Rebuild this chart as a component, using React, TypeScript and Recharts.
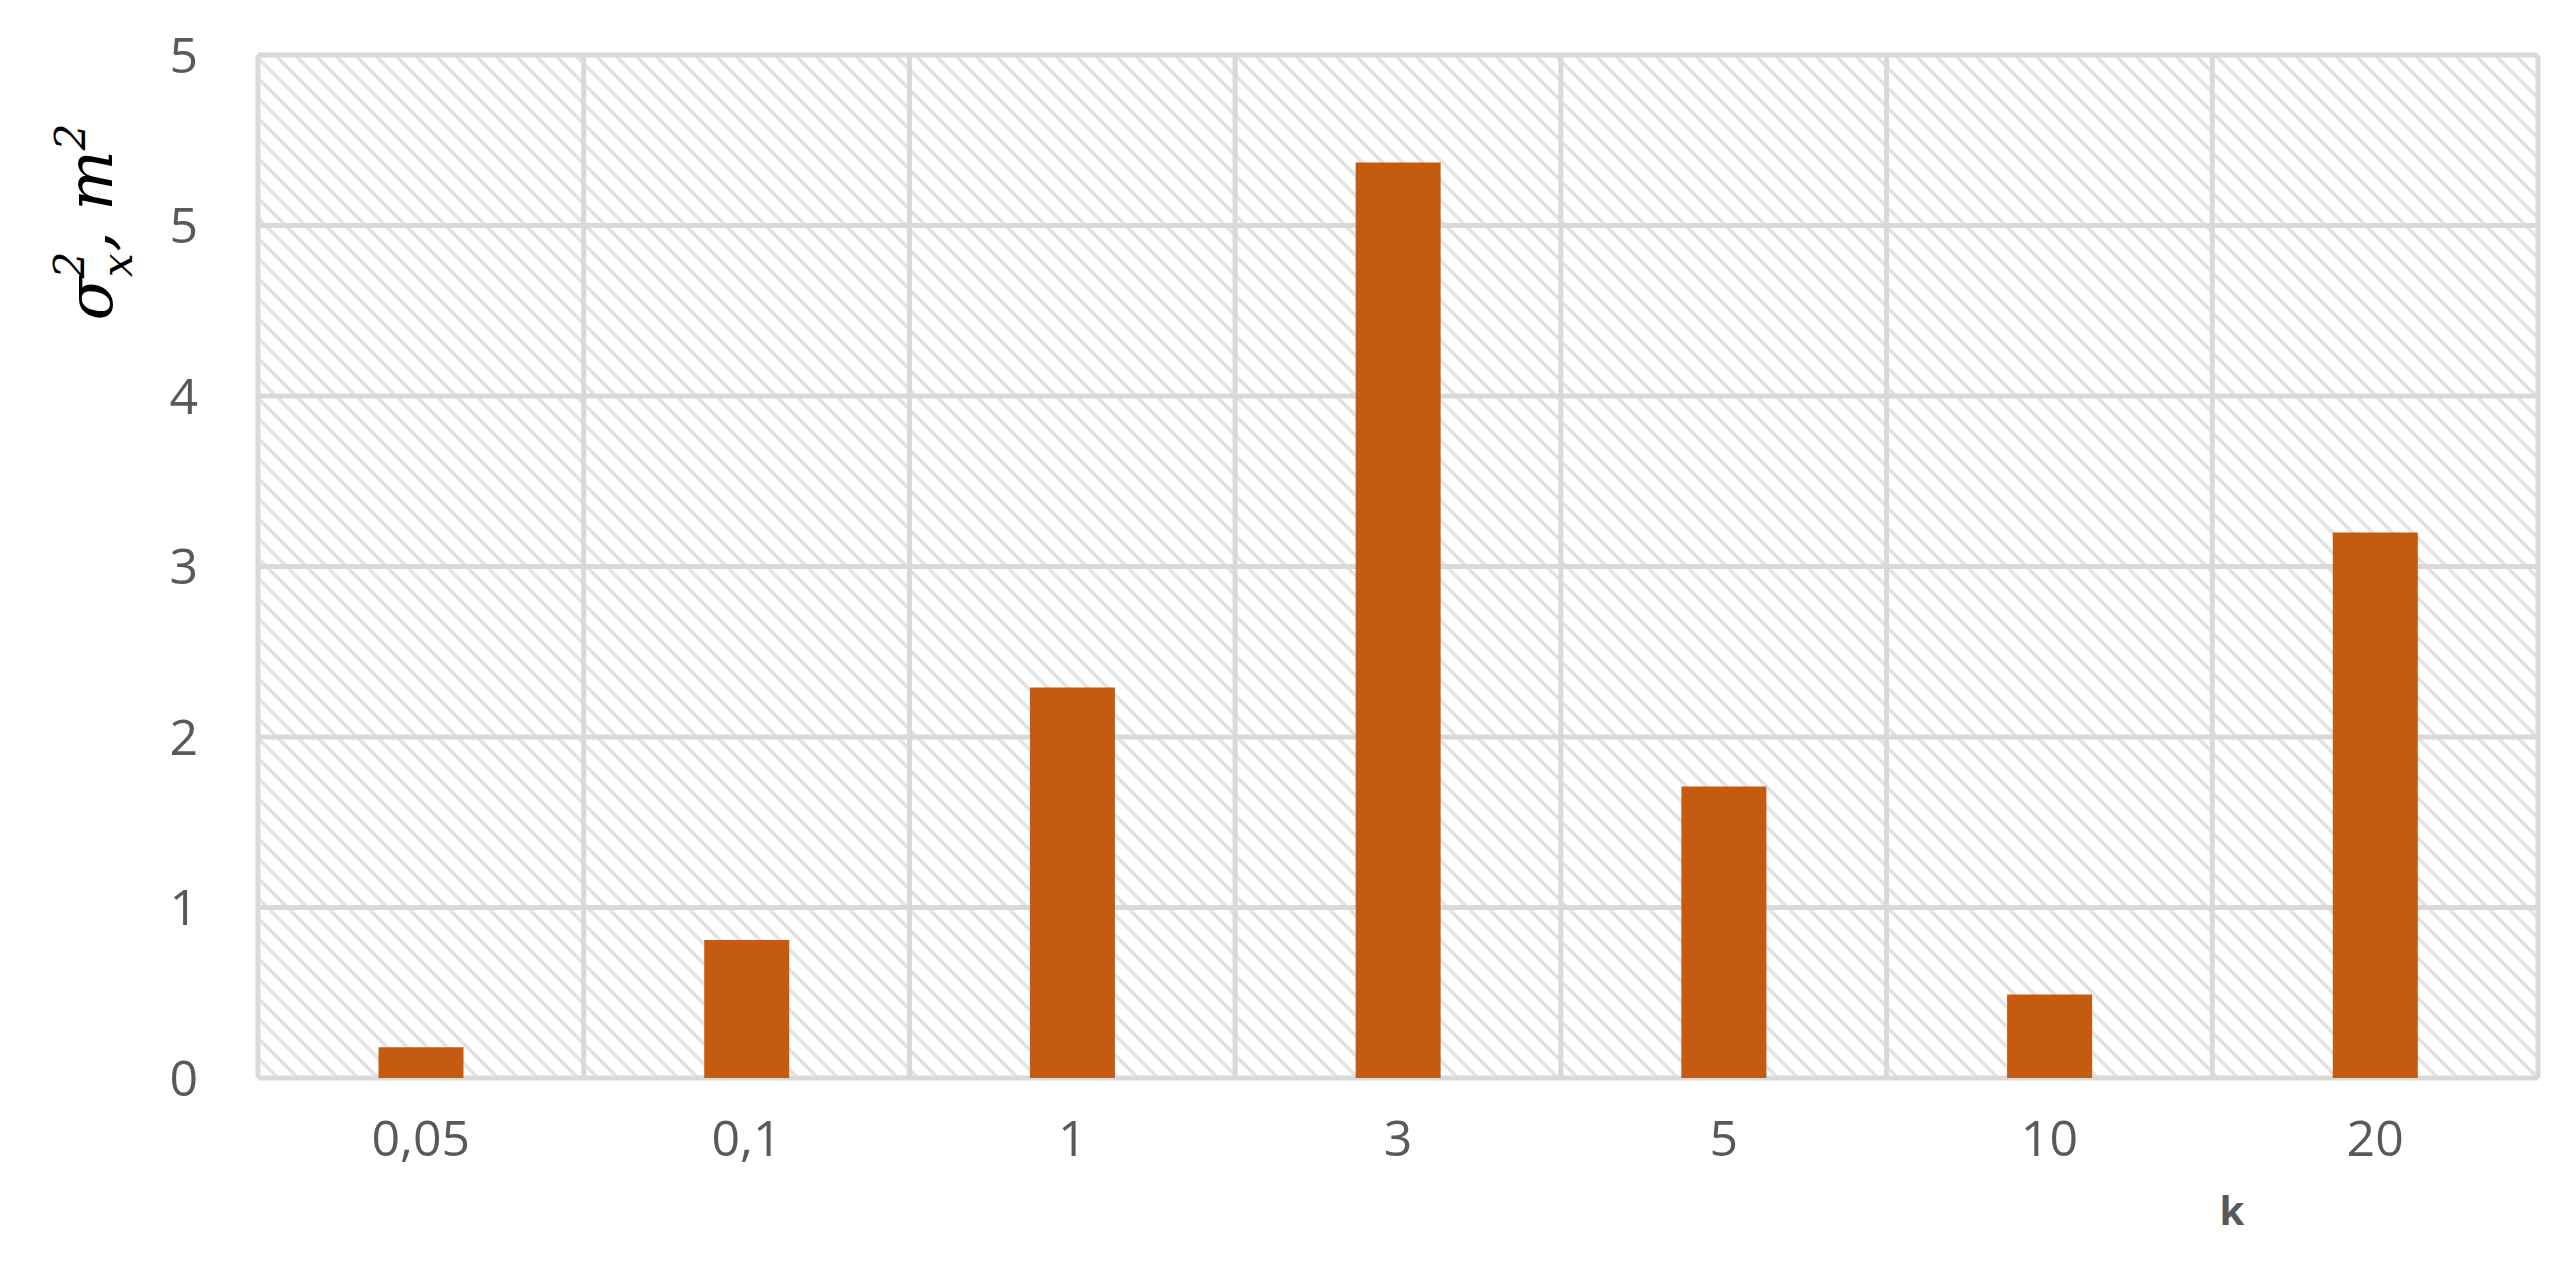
import { BarChart, Bar, XAxis, YAxis, CartesianGrid } from "recharts";

const categories = ["0,05", "0,1", "1", "3", "5", "10", "20"];
const variance = [0.18, 0.81, 2.29, 5.37, 1.71, 0.49, 3.2];
const yTicks = [0, 1, 2, 3, 4, 5, 6];
const yTickLabels = ["0", "1", "2", "3", "4", "5", "5"];

const data = categories.map((k, i) => ({ k, value: variance[i] }));

const W = 2575;
const H = 1270;
const GRID = "#D9D9D9";
const TEXT = "#595959";

function YLabel() {
  return (
    <text
      transform="translate(112, 222) rotate(-90)"
      textAnchor="middle"
      fontFamily="'DejaVu Serif', serif"
      fontStyle="italic"
      fontSize={64}
      fill="#000"
    >
      <tspan>σ</tspan>
      <tspan fontSize={42} dy={20}>x</tspan>
      <tspan fontSize={42} dx={-25} dy={-48}>2</tspan>
      <tspan dy={28}>, m</tspan>
      <tspan fontSize={42} dy={-27}>2</tspan>
    </text>
  );
}

export default function App() {
  return (
    <div style={{ position: "absolute", left: 0, top: 0, width: W, height: H, background: "#fff" }}>
      <BarChart
        width={W}
        height={H}
        data={data}
        margin={{ top: 55, right: 37, bottom: 92, left: 158 }}
        barCategoryGap="37%"
      >
        <defs>
          <pattern id="hatch" width={20} height={20} patternUnits="userSpaceOnUse">
            <rect width={20} height={20} fill="#fff" />
            <path d="M-5,-5 L25,25 M-5,15 L5,25 M15,-5 L25,5" stroke="#E3E3E3" strokeWidth={3.5} />
          </pattern>
        </defs>
        <CartesianGrid
          stroke={GRID}
          strokeWidth={5}
          fill="url(#hatch)"
          fillOpacity={1}
          verticalCoordinatesGenerator={({ offset }: any) =>
            categories.map((_, i) => offset.left + (i * offset.width) / categories.length).concat(offset.left + offset.width)
          }
        />
        <XAxis
          dataKey="k"
          axisLine={false}
          tickLine={false}
          tickSize={0}
          tickMargin={42}
          height={100}
          interval={0}
          tick={{ fill: TEXT, fontSize: 50, fontFamily: "'Open Sans', sans-serif" }}
        />
        <YAxis
          domain={[0, 6]}
          ticks={yTicks}
          tickFormatter={(v: number) => yTickLabels[yTicks.indexOf(v)]}
          axisLine={false}
          tickLine={false}
          tickSize={0}
          tickMargin={60}
          width={100}
          tick={{ fill: TEXT, fontSize: 50, fontFamily: "'Open Sans', sans-serif" }}
        />
        <Bar dataKey="value" fill="#C55A11" isAnimationActive={false} />
        <YLabel />
        <text
          x={2232}
          y={1225}
          textAnchor="middle"
          fontFamily="'Open Sans', sans-serif"
          fontWeight="bold"
          fontSize={40}
          fill={TEXT}
        >
          k
        </text>
      </BarChart>
    </div>
  );
}
